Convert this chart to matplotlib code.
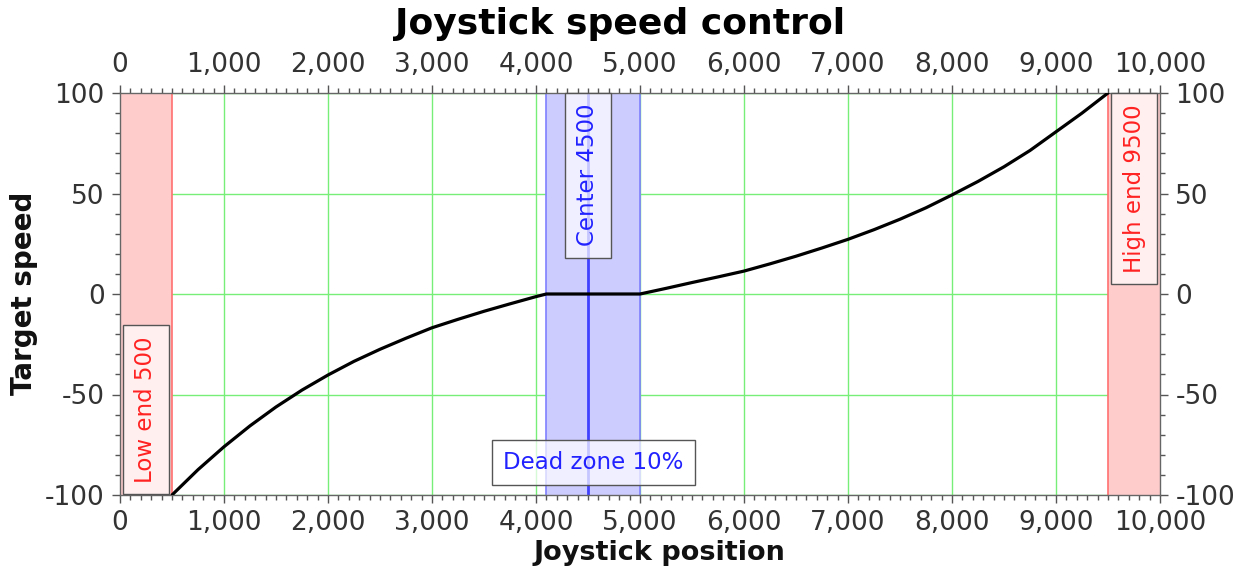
import matplotlib
matplotlib.use("Agg")
import matplotlib.pyplot as plt
from matplotlib.ticker import MultipleLocator, FuncFormatter

plt.rcParams['font.family'] = ['DejaVu Sans']

# Response curve: joystick position -> target speed
position = [500, 750, 1000, 1250, 1500, 1750, 2000, 2250, 2500, 2750, 3000,
            3250, 3500, 3750, 4000, 4100, 5000, 5250, 5500, 5750, 6000, 6250,
            6500, 6750, 7000, 7250, 7500, 7750, 8000, 8250, 8500, 8750, 9000,
            9250, 9500]
speed = [-100, -87.4, -76.0, -65.6, -56.2, -47.8, -40.3, -33.5, -27.5, -22.0,
         -16.8, -12.6, -8.6, -4.9, -1.3, 0, 0, 2.8, 5.7, 8.5, 11.4, 15.0, 18.8,
         22.9, 27.2, 32.0, 37.2, 42.9, 49.3, 56.0, 63.3, 71.4, 80.7, 90.0, 100]

low_end = 500
high_end = 9500
center = 4500
dead_lo, dead_hi = 4100, 5000
x_range = (0, 10000)
y_range = (-100, 100)

fig = plt.figure(figsize=(12.45, 5.71), dpi=100)
ax = fig.add_axes([120 / 1245, 76 / 571, 1040 / 1245, 402 / 571])

ax.set_xlim(*x_range)
ax.set_ylim(*y_range)

# end-of-travel bands
ax.axvspan(x_range[0], low_end, facecolor='#ffcccc', edgecolor='none', zorder=1)
ax.axvspan(high_end, x_range[1], facecolor='#ffcccc', edgecolor='none', zorder=1)
ax.axvline(low_end, color='#ff7070', lw=1.2, zorder=1.5)
ax.axvline(high_end, color='#ff7070', lw=1.2, zorder=1.5)

# dead zone band
ax.axvspan(dead_lo, dead_hi, facecolor='#ccccff', edgecolor='none', zorder=1)
ax.axvline(dead_lo, color='#8080ff', lw=1.2, zorder=1.5)
ax.axvline(dead_hi, color='#8080ff', lw=1.2, zorder=1.5)
ax.axvline(center, color='#4040ff', lw=2.0, zorder=1.6)

ax.grid(True, which='major', color='#77ee77', lw=1.0, zorder=0.5)
ax.set_axisbelow(True)

ax.plot(position, speed, color='black', lw=2.3, zorder=3,
        solid_capstyle='round', solid_joinstyle='round')

# ticks on all four sides
ax.xaxis.set_major_locator(MultipleLocator(1000))
ax.xaxis.set_minor_locator(MultipleLocator(100))
ax.yaxis.set_major_locator(MultipleLocator(50))
ax.yaxis.set_minor_locator(MultipleLocator(10))
ax.xaxis.set_major_formatter(FuncFormatter(lambda v, p: f"{int(v):,}"))
ax.yaxis.set_major_formatter(FuncFormatter(lambda v, p: f"{int(v)}"))
ax.tick_params(which='both', direction='out', top=True, right=True,
               labeltop=True, labelright=True, colors='#555555',
               labelcolor='#333333', labelsize=19, pad=5)
ax.tick_params(which='major', length=6, width=1)
ax.tick_params(which='minor', length=3.5, width=1)
for s in ax.spines.values():
    s.set_color('#666666')
    s.set_linewidth(1)

box = dict(boxstyle='square,pad=0.5', facecolor=(1, 1, 1, 0.7),
           edgecolor='#555555', linewidth=1)

lbl = 16.5
ax.annotate('Center 4500', xy=(center, y_range[1]), xytext=(0, -11),
            textcoords='offset pixels', rotation=90, ha='center', va='top',
            color='#2222ff', fontsize=lbl, bbox=box, zorder=4)
ax.annotate('High end 9500', xy=((high_end + x_range[1]) / 2, y_range[1]),
            xytext=(0, -11), textcoords='offset pixels', rotation=90,
            ha='center', va='top', color='#ff2222', fontsize=lbl,
            bbox=box, zorder=4)
ax.annotate('Low end 500', xy=((x_range[0] + low_end) / 2, y_range[0]),
            xytext=(0, 12), textcoords='offset pixels', rotation=90,
            ha='center', va='bottom', color='#ff2222', fontsize=lbl,
            bbox=box, zorder=4)
ax.annotate('Dead zone 10%', xy=((dead_lo + dead_hi) / 2, y_range[0]),
            xytext=(0, 21), textcoords='offset pixels',
            ha='center', va='bottom', color='#2222ff', fontsize=lbl,
            bbox=box, zorder=4)

fig.text(620 / 1245, 1 - 24 / 571, 'Joystick speed control', ha='center',
         va='center', fontsize=26, fontweight='bold', color='black')
fig.text(659 / 1245, 1 - 553 / 571, 'Joystick position', ha='center',
         va='center', fontsize=19.5, fontweight='bold', color='#111111')
fig.text(24 / 1245, 1 - 293 / 571, 'Target speed', ha='center', va='center',
         rotation=90, fontsize=20, fontweight='bold', color='#111111')

fig.savefig('out.png', dpi=100)
